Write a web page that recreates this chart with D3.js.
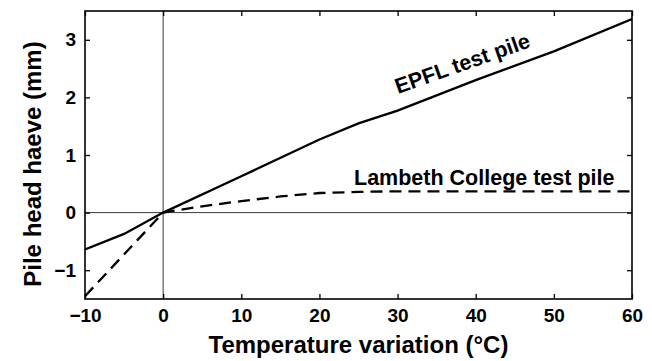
<!DOCTYPE html>
<html>
<head>
<meta charset="utf-8">
<script src="https://cdn.jsdelivr.net/npm/d3@7"></script>
<style>
  html, body { margin: 0; padding: 0; background: #fff; }
  svg { display: block; }
  text { font-family: "Liberation Sans", Arial, Helvetica, sans-serif; font-weight: bold; fill: #000; }
</style>
</head>
<body>
<svg id="chart" width="652" height="361"></svg>
<script>
// ---- data ----
const epflTemp   = [-10, -5, 0, 10, 20, 25, 30, 40, 50, 60];
const epflHeave  = [-0.64, -0.37, 0, 0.63, 1.27, 1.55, 1.77, 2.30, 2.80, 3.36];
const lambTemp   = [-10, 0, 5, 10, 15, 20, 25, 30, 40, 50, 60];
const lambHeave  = [-1.45, 0, 0.11, 0.20, 0.28, 0.34, 0.36, 0.37, 0.37, 0.37, 0.37];
const xTicks = [-10, 0, 10, 20, 30, 40, 50, 60];
const yTicks = [-1, 0, 1, 2, 3];
const xDomain = [-10, 60];
const yDomain = [-1.5, 3.5];
const xTitle = "Temperature variation (°C)";
const yTitle = "Pile head haeve (mm)";
const epflLabel = "EPFL test pile";
const lambLabel = "Lambeth College test pile";

// ---- layout ----
const L = 85, R = 632, T = 11, B = 299;
const svg = d3.select("#chart");
const x = d3.scaleLinear().domain(xDomain).range([L, R]);
const y = d3.scaleLinear().domain(yDomain).range([B, T]);
const fmt = d => d3.format("d")(d).replace("-", "\u2212");

svg.append("defs").append("clipPath").attr("id", "clip")
  .append("rect").attr("x", L).attr("y", T).attr("width", R - L).attr("height", B - T);

// zero reference lines
svg.append("line").attr("x1", x(0)).attr("x2", x(0)).attr("y1", T).attr("y2", B)
  .attr("stroke", "#222").attr("stroke-width", 0.9);
svg.append("line").attr("x1", L).attr("x2", R).attr("y1", y(0)).attr("y2", y(0))
  .attr("stroke", "#222").attr("stroke-width", 0.9);

// axes (inner ticks, on all four sides)
const tickLen = 5;
const axB = svg.append("g").attr("transform", `translate(0,${B})`)
  .call(d3.axisBottom(x).tickValues(xTicks).tickSizeInner(-tickLen).tickSizeOuter(0).tickPadding(10).tickFormat(fmt));
const axT = svg.append("g").attr("transform", `translate(0,${T})`)
  .call(d3.axisTop(x).tickValues(xTicks).tickSizeInner(-tickLen).tickSizeOuter(0).tickFormat(""));
const axL = svg.append("g").attr("transform", `translate(${L},0)`)
  .call(d3.axisLeft(y).tickValues(yTicks).tickSizeInner(-tickLen).tickSizeOuter(0).tickPadding(9).tickFormat(fmt));
const axR = svg.append("g").attr("transform", `translate(${R},0)`)
  .call(d3.axisRight(y).tickValues(yTicks).tickSizeInner(-tickLen).tickSizeOuter(0).tickFormat(""));
[axB, axT, axL, axR].forEach(g => {
  g.select(".domain").remove();
  g.selectAll(".tick line").attr("stroke", "#000").attr("stroke-width", 1.3);
  g.selectAll("text").attr("font-size", 19).style("font-family", '"Liberation Sans", Arial, sans-serif').attr("font-weight", "bold");
});
axB.selectAll("text").attr("dy", "0.71em");

// frame
svg.append("rect").attr("x", L).attr("y", T).attr("width", R - L).attr("height", B - T)
  .attr("fill", "none").attr("stroke", "#000").attr("stroke-width", 1.6);

// lines
const line = d3.line().x(d => x(d[0])).y(d => y(d[1]));
const epfl = epflTemp.map((t, i) => [t, epflHeave[i]]);
const lamb = lambTemp.map((t, i) => [t, lambHeave[i]]);
const gl = svg.append("g").attr("clip-path", "url(#clip)");
gl.append("path").datum(epfl).attr("d", line).attr("fill", "none")
  .attr("stroke", "#000").attr("stroke-width", 2.3);
gl.append("path").datum(lamb).attr("d", line).attr("fill", "none")
  .attr("stroke", "#000").attr("stroke-width", 2.3).attr("stroke-dasharray", "12,7");

// annotations
svg.append("text").attr("transform", "translate(398,94) rotate(-19.5)")
  .attr("font-size", 21.5).text(epflLabel);
svg.append("text").attr("x", 354).attr("y", 185)
  .attr("font-size", 21.5).text(lambLabel);

// axis titles
svg.append("text").attr("x", (L + R) / 2).attr("y", 353).attr("text-anchor", "middle")
  .attr("font-size", 24).text(xTitle);
svg.append("text").attr("transform", "translate(41,164) rotate(-90)").attr("text-anchor", "middle")
  .attr("font-size", 24).text(yTitle);
</script>
</body>
</html>
